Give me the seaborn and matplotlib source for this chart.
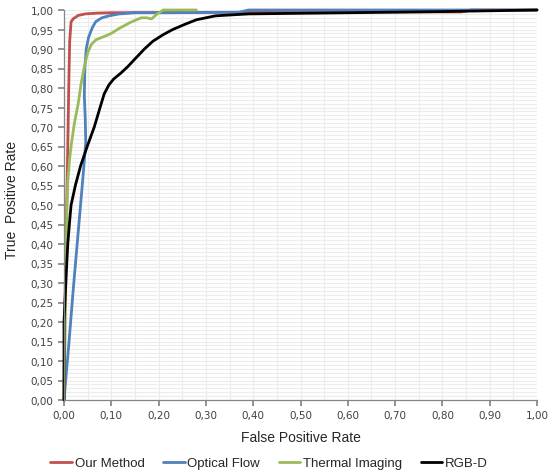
"""ROC curves for four detection methods."""

import matplotlib
matplotlib.use("Agg")

import matplotlib.pyplot as plt
import pandas as pd
import seaborn as sns
from matplotlib.ticker import FuncFormatter, MultipleLocator

SERIES = ["Our Method", "Optical Flow", "Thermal Imaging", "RGB-D"]
COLORS = ["#c0504d", "#4f81bd", "#9bbb59", "#000000"]

red_x = [0, 0.002, 0.005, 0.008, 0.010, 0.012, 0.015, 0.020, 0.030, 0.045, 0.07,
         0.10, 0.30, 0.60, 0.84, 0.86, 1.0]
red_y = [0, 0.25, 0.45, 0.65, 0.80, 0.92, 0.97, 0.978, 0.986, 0.99, 0.992,
         0.993, 0.994, 0.995, 0.995, 1.0, 1.0]

blue_x = [0, 0.01, 0.02, 0.03, 0.04, 0.046, 0.045, 0.043, 0.044, 0.047, 0.052,
          0.06, 0.067, 0.08, 0.095, 0.117, 0.15, 0.20, 0.37, 0.39, 1.0]
blue_y = [0, 0.14, 0.29, 0.43, 0.57, 0.66, 0.72, 0.78, 0.85, 0.90, 0.93,
          0.955, 0.97, 0.98, 0.985, 0.99, 0.993, 0.993, 0.994, 1.0, 1.0]

green_x = [0, 0.002, 0.004, 0.006, 0.008, 0.012, 0.016, 0.022, 0.030, 0.036,
           0.043, 0.050, 0.058, 0.068, 0.085, 0.10, 0.117, 0.14, 0.163, 0.175,
           0.185, 0.197, 0.21, 0.28]
green_y = [0, 0.15, 0.35, 0.48, 0.56, 0.62, 0.66, 0.71, 0.76, 0.81,
           0.855, 0.89, 0.912, 0.924, 0.932, 0.94, 0.953, 0.968, 0.98, 0.98,
           0.977, 0.99, 1.0, 1.0]

black_x = [0, 0, 0.002, 0.005, 0.008, 0.012, 0.015, 0.024, 0.035, 0.049, 0.064,
           0.075, 0.085, 0.095, 0.105, 0.12, 0.135, 0.152, 0.17, 0.188, 0.21,
           0.23, 0.255, 0.28, 0.32, 0.39, 0.6, 0.8, 1.0]
black_y = [0, 0.20, 0.25, 0.33, 0.40, 0.46, 0.50, 0.55, 0.60, 0.65, 0.70,
           0.745, 0.785, 0.808, 0.823, 0.838, 0.855, 0.877, 0.90, 0.92, 0.937,
           0.95, 0.963, 0.975, 0.985, 0.99, 0.993, 0.996, 1.0]

sns.set_theme(style="white")
plt.rcParams["font.family"] = ["Liberation Sans", "DejaVu Sans"]

frames = []
for name, xs, ys in zip(SERIES, [red_x, blue_x, green_x, black_x],
                        [red_y, blue_y, green_y, black_y]):
    frames.append(pd.DataFrame({"fpr": xs, "tpr": ys, "method": name}))
df = pd.concat(frames, ignore_index=True)

fig = plt.figure(figsize=(5.49, 4.77), dpi=100)
ax = fig.add_axes([64 / 549, 1 - 401 / 477, (537 - 64) / 549, (401 - 11) / 477])

sns.lineplot(data=df, x="fpr", y="tpr", hue="method", hue_order=SERIES,
             palette=COLORS, estimator=None, sort=False,
             linewidth=2.0, ax=ax, legend=False)
for line in ax.lines:
    line.set_clip_on(False)
    line.set_solid_joinstyle("round")

ax.set_xlim(0, 1)
ax.set_ylim(0, 1)
fmt = FuncFormatter(lambda v, _: f"{v:.2f}".replace(".", ","))
ax.xaxis.set_major_locator(MultipleLocator(0.1))
ax.xaxis.set_minor_locator(MultipleLocator(0.05))
ax.yaxis.set_major_locator(MultipleLocator(0.05))
ax.yaxis.set_minor_locator(MultipleLocator(0.01))
ax.xaxis.set_major_formatter(fmt)
ax.yaxis.set_major_formatter(fmt)

ax.grid(which="both", color="#ececec", linewidth=0.8)
ax.set_axisbelow(True)
for side in ["top", "right"]:
    ax.spines[side].set_visible(False)
for side in ["left", "bottom"]:
    ax.spines[side].set_color("#868686")
    ax.spines[side].set_linewidth(0.9)
ax.tick_params(which="major", direction="out", length=4, color="#868686",
               labelsize=7.5, labelcolor="#404040", left=True, bottom=True)
ax.tick_params(which="minor", length=0)
for lab in ax.get_xticklabels() + ax.get_yticklabels():
    lab.set_family("DejaVu Sans")

ax.set_xlabel("False Positive Rate", fontsize=10, labelpad=7)
ax.set_ylabel("True  Positive Rate", fontsize=10, labelpad=7)
ax.yaxis.set_label_coords(-0.095, 0.515)

handles = [plt.Line2D([], [], color=c, linewidth=2.0) for c in COLORS]
fig.legend(handles, SERIES, loc="center", bbox_to_anchor=(0.49, 0.027), ncol=4,
           frameon=False, fontsize=9.5, handlelength=1.65, handletextpad=0.2,
           columnspacing=1.4)

fig.savefig("out.png", dpi=100)
